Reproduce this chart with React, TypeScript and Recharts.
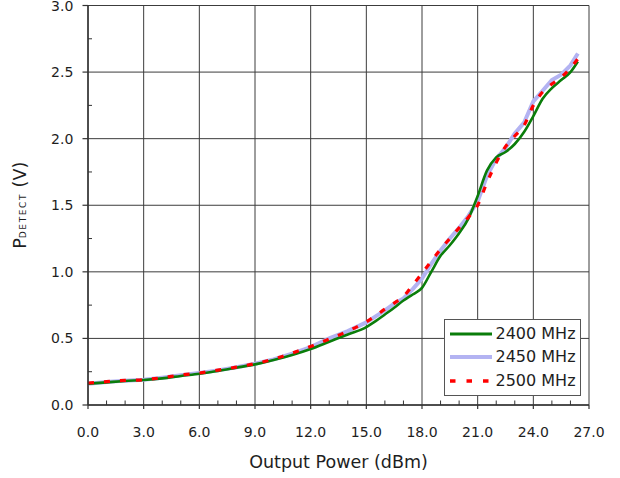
import React from 'react';
import { LineChart, Line, XAxis, YAxis, CartesianGrid, Legend } from 'recharts';

const xValues = [0, 1, 2, 3, 4, 5, 6, 7, 8, 9, 10, 11, 12, 13, 14, 15, 15.5, 16, 16.5, 17, 17.5, 18, 18.5, 19, 19.5, 20, 20.5, 21, 21.5, 22, 22.5, 23, 23.5, 24, 24.5, 25, 25.5, 26, 26.4];
const p2400 = [0.16, 0.17, 0.18, 0.188, 0.2, 0.218, 0.235, 0.255, 0.28, 0.305, 0.338, 0.375, 0.42, 0.475, 0.53, 0.585, 0.63, 0.68, 0.73, 0.785, 0.83, 0.88, 1.0, 1.12, 1.2, 1.29, 1.4, 1.57, 1.76, 1.86, 1.9, 1.96, 2.05, 2.17, 2.3, 2.38, 2.44, 2.5, 2.58];
const p2450 = [0.16, 0.172, 0.183, 0.19, 0.205, 0.223, 0.24, 0.26, 0.283, 0.31, 0.343, 0.385, 0.435, 0.5, 0.555, 0.62, 0.665, 0.71, 0.76, 0.8, 0.87, 0.95, 1.06, 1.16, 1.25, 1.33, 1.42, 1.53, 1.72, 1.85, 1.93, 2.04, 2.12, 2.28, 2.36, 2.44, 2.48, 2.55, 2.64];
const p2500 = [0.165, 0.175, 0.185, 0.19, 0.205, 0.225, 0.24, 0.262, 0.285, 0.31, 0.345, 0.39, 0.44, 0.495, 0.555, 0.625, 0.67, 0.72, 0.765, 0.815, 0.9, 0.99, 1.08, 1.17, 1.25, 1.33, 1.41, 1.5, 1.67, 1.82, 1.94, 2.02, 2.1, 2.25, 2.35, 2.41, 2.46, 2.53, 2.6];

const seriesNames = ['2400 MHz', '2450 MHz', '2500 MHz'];
const xMajorTicks = [0, 3, 6, 9, 12, 15, 18, 21, 24, 27];
const xAllTicks = [0, 1, 2, 3, 4, 5, 6, 7, 8, 9, 10, 11, 12, 13, 14, 15, 16, 17, 18, 19, 20, 21, 22, 23, 24, 25, 26, 27];
const yMajorTicks = [0, 0.5, 1, 1.5, 2, 2.5, 3];
const yAllTicks = [0, 0.25, 0.5, 0.75, 1, 1.25, 1.5, 1.75, 2, 2.25, 2.5, 2.75, 3];

const data = xValues.map((x, i) => ({ x, a: p2400[i], b: p2450[i], c: p2500[i] }));

const FONT = '"DejaVu Sans", Verdana, sans-serif';
const AXIS = '#333333';
const TEXT = '#1e1e1e';
const RED_DASH = '6 10';

const XTick = (props: any) => {
  const { x, y, payload } = props;
  const v = payload.value as number;
  const major = Math.abs(v % 3) < 1e-9;
  return (
    <g>
      {major ? (
        <line x1={x} x2={x} y1={y} y2={y + 4} stroke={AXIS} strokeWidth={1.2} />
      ) : (
        <line x1={x} x2={x} y1={y} y2={y - 4.5} stroke={AXIS} strokeWidth={1} />
      )}
      {major && (
        <text x={x} y={y + 31.5} textAnchor="middle" fontSize={14} fill={TEXT} fontFamily={FONT}>
          {v.toFixed(1)}
        </text>
      )}
    </g>
  );
};

const YTick = (props: any) => {
  const { x, y, payload } = props;
  const v = payload.value as number;
  const major = Math.abs(v * 2 - Math.round(v * 2)) < 1e-9;
  return (
    <g>
      {major ? (
        <line x1={x - 5.5} x2={x} y1={y} y2={y} stroke={AXIS} strokeWidth={1.2} />
      ) : (
        <line x1={x} x2={x + 4} y1={y} y2={y} stroke={AXIS} strokeWidth={1} />
      )}
      {major && (
        <text x={x - 14.7} y={y} dy="0.36em" textAnchor="end" fontSize={14} fill={TEXT} fontFamily={FONT}>
          {v.toFixed(1)}
        </text>
      )}
    </g>
  );
};

const XLabel = (props: any) => {
  const vb = props.viewBox || { x: 88, y: 405, width: 501, height: 60 };
  const cx = vb.x + vb.width / 2;
  return (
    <text x={cx} y={vb.y + 63} textAnchor="middle" fontSize={17.5} fill={TEXT} fontFamily={FONT}>
      Output Power (dBm)
    </text>
  );
};

const YLabel = (props: any) => {
  const vb = props.viewBox || { x: 0, y: 5, width: 88, height: 400 };
  const cy = vb.y + vb.height / 2;
  const bx = 26;
  return (
    <text x={bx} y={cy} transform={`rotate(-90 ${bx} ${cy})`} textAnchor="middle" fill={TEXT} fontFamily={FONT}>
      <tspan fontSize={17.5}>P</tspan>
      <tspan fontSize={9} letterSpacing={1.6}>DETECT</tspan>
      <tspan fontSize={17.5}> (V)</tspan>
    </text>
  );
};

const legendStyles = [
  { stroke: '#0a7d0a', width: 3, dash: undefined as string | undefined },
  { stroke: '#b3b3f2', width: 4, dash: undefined as string | undefined },
  { stroke: '#ff0000', width: 3.5, dash: '5.5 11' },
];

const LegendBox = () => (
  <div
    style={{
      position: 'relative',
      width: 137,
      height: 77,
      boxSizing: 'border-box',
      border: '1px solid #555',
      background: '#fff',
      fontFamily: FONT,
    }}
  >
    {seriesNames.map((name, i) => {
      const cy = 13.5 + i * 23.5;
      const st = legendStyles[i];
      return (
        <React.Fragment key={name}>
          <svg style={{ position: 'absolute', left: 4, top: cy - 5 }} width={44} height={10}>
            <line x1={1} x2={43} y1={5} y2={5} stroke={st.stroke} strokeWidth={st.width} strokeDasharray={st.dash} />
          </svg>
          <div
            style={{
              position: 'absolute',
              left: 50.5,
              top: cy - 11,
              height: 22,
              lineHeight: '22px',
              fontSize: 16,
              color: TEXT,
              whiteSpace: 'nowrap',
            }}
          >
            {name}
          </div>
        </React.Fragment>
      );
    })}
  </div>
);

export default function App() {
  return (
    <div style={{ position: 'absolute', left: 0, top: 0, width: 620, height: 478, background: '#fff' }}>
      <LineChart width={620} height={478} data={data} margin={{ top: 5.5, right: 31, bottom: 13, left: 0 }}>
        <CartesianGrid
          stroke="#3c3c3c"
          strokeWidth={1}
          verticalValues={xMajorTicks}
          horizontalValues={yMajorTicks}
        />
        <XAxis
          dataKey="x"
          type="number"
          domain={[0, 27]}
          ticks={xAllTicks}
          interval={0}
          height={60}
          tickSize={0}
          tickMargin={0}
          tickLine={false}
          axisLine={{ stroke: AXIS, strokeWidth: 1.5 }}
          tick={<XTick />}
          label={<XLabel />}
          allowDataOverflow
        />
        <YAxis
          type="number"
          domain={[0, 3]}
          ticks={yAllTicks}
          interval={0}
          width={88}
          tickSize={0}
          tickMargin={0}
          tickLine={false}
          axisLine={{ stroke: AXIS, strokeWidth: 1.5 }}
          tick={<YTick />}
          label={<YLabel />}
          allowDataOverflow
        />
        <Legend
          layout="vertical"
          align="center"
          verticalAlign="middle"
          wrapperStyle={{ left: 444, top: 319, width: 137, height: 77 }}
          content={<LegendBox />}
        />
        <Line
          name={seriesNames[1]}
          dataKey="b"
          type="linear"
          stroke="#b3b3f2"
          strokeWidth={4}
          dot={false}
          isAnimationActive={false}
        />
        <Line
          name={seriesNames[0]}
          dataKey="a"
          type="monotone"
          stroke="#0a7d0a"
          strokeWidth={2.6}
          dot={false}
          isAnimationActive={false}
        />
        <Line
          name={seriesNames[2]}
          dataKey="c"
          type="monotone"
          stroke="#ff0000"
          strokeWidth={3.2}
          strokeDasharray={RED_DASH}
          dot={false}
          isAnimationActive={false}
        />
      </LineChart>
    </div>
  );
}
